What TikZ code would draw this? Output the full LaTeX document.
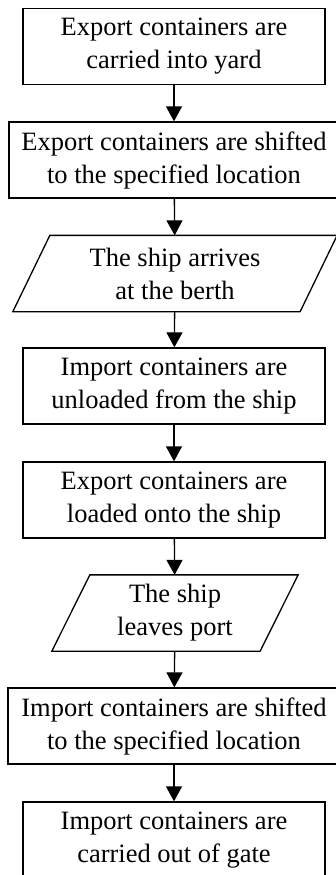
\documentclass[tikz,border=0pt]{standalone}
\usepackage{fontspec}
\setmainfont{Liberation Serif}
\usetikzlibrary{arrows.meta}
\begin{document}
\begin{tikzpicture}[x=1pt,y=-1pt,
  every node/.style={font=\fontsize{26.5}{33}\selectfont, align=center, inner sep=0pt, line width=1.3pt},
  stepbox/.style={draw, rectangle, minimum height=76pt},
  iobox/.style={rectangle, minimum height=75pt},
  flow/.style={line width=1.3pt, -{Triangle[width=16pt,length=15pt]}},
  edge/.style={line width=1.3pt, line join=miter}]
\useasboundingbox (0,0) rectangle (336,875);
\clip (0,0) rectangle (336,875);

\node[stepbox, minimum width=302pt] (s1) at (174,46.5) {Export containers are\\carried into yard};
\node[stepbox, minimum width=330pt] (s2) at (174,160) {Export containers are shifted\\to the specified location};
\node[iobox, minimum width=286pt] (s3) at (175,273.5) {The ship arrives\\at the berth};
\node[stepbox, minimum width=302pt] (s4) at (174,386) {Import containers are\\unloaded from the ship};
\node[stepbox, minimum width=302pt] (s5) at (174,500) {Export containers are\\loaded onto the ship};
\node[iobox, minimum width=207pt] (s6) at (175,613) {The ship\\leaves port};
\node[stepbox, minimum width=332pt] (s7) at (174,726) {Import containers are shifted\\to the specified location};
\node[stepbox, minimum width=302pt] (s8) at (174,840) {Import containers are\\carried out of gate};

% parallelogram outlines for the two ship events
\draw[edge] ([xshift=18.5pt]s3.north west) -- ([xshift=18.5pt]s3.north east)
  -- ([xshift=-18.5pt]s3.south east) -- ([xshift=-18.5pt]s3.south west) -- cycle;
\draw[edge] ([xshift=19pt]s6.north west) -- ([xshift=19pt]s6.north east)
  -- ([xshift=-19pt]s6.south east) -- ([xshift=-19pt]s6.south west) -- cycle;

\draw[flow] (s1) -- (s2);
\draw[flow] (s2) -- (s3);
\draw[flow] (s3) -- (s4);
\draw[flow] (s4) -- (s5);
\draw[flow] (s5) -- (s6);
\draw[flow] (s6) -- (s7);
\draw[flow] (s7) -- (s8);
\end{tikzpicture}
\end{document}
